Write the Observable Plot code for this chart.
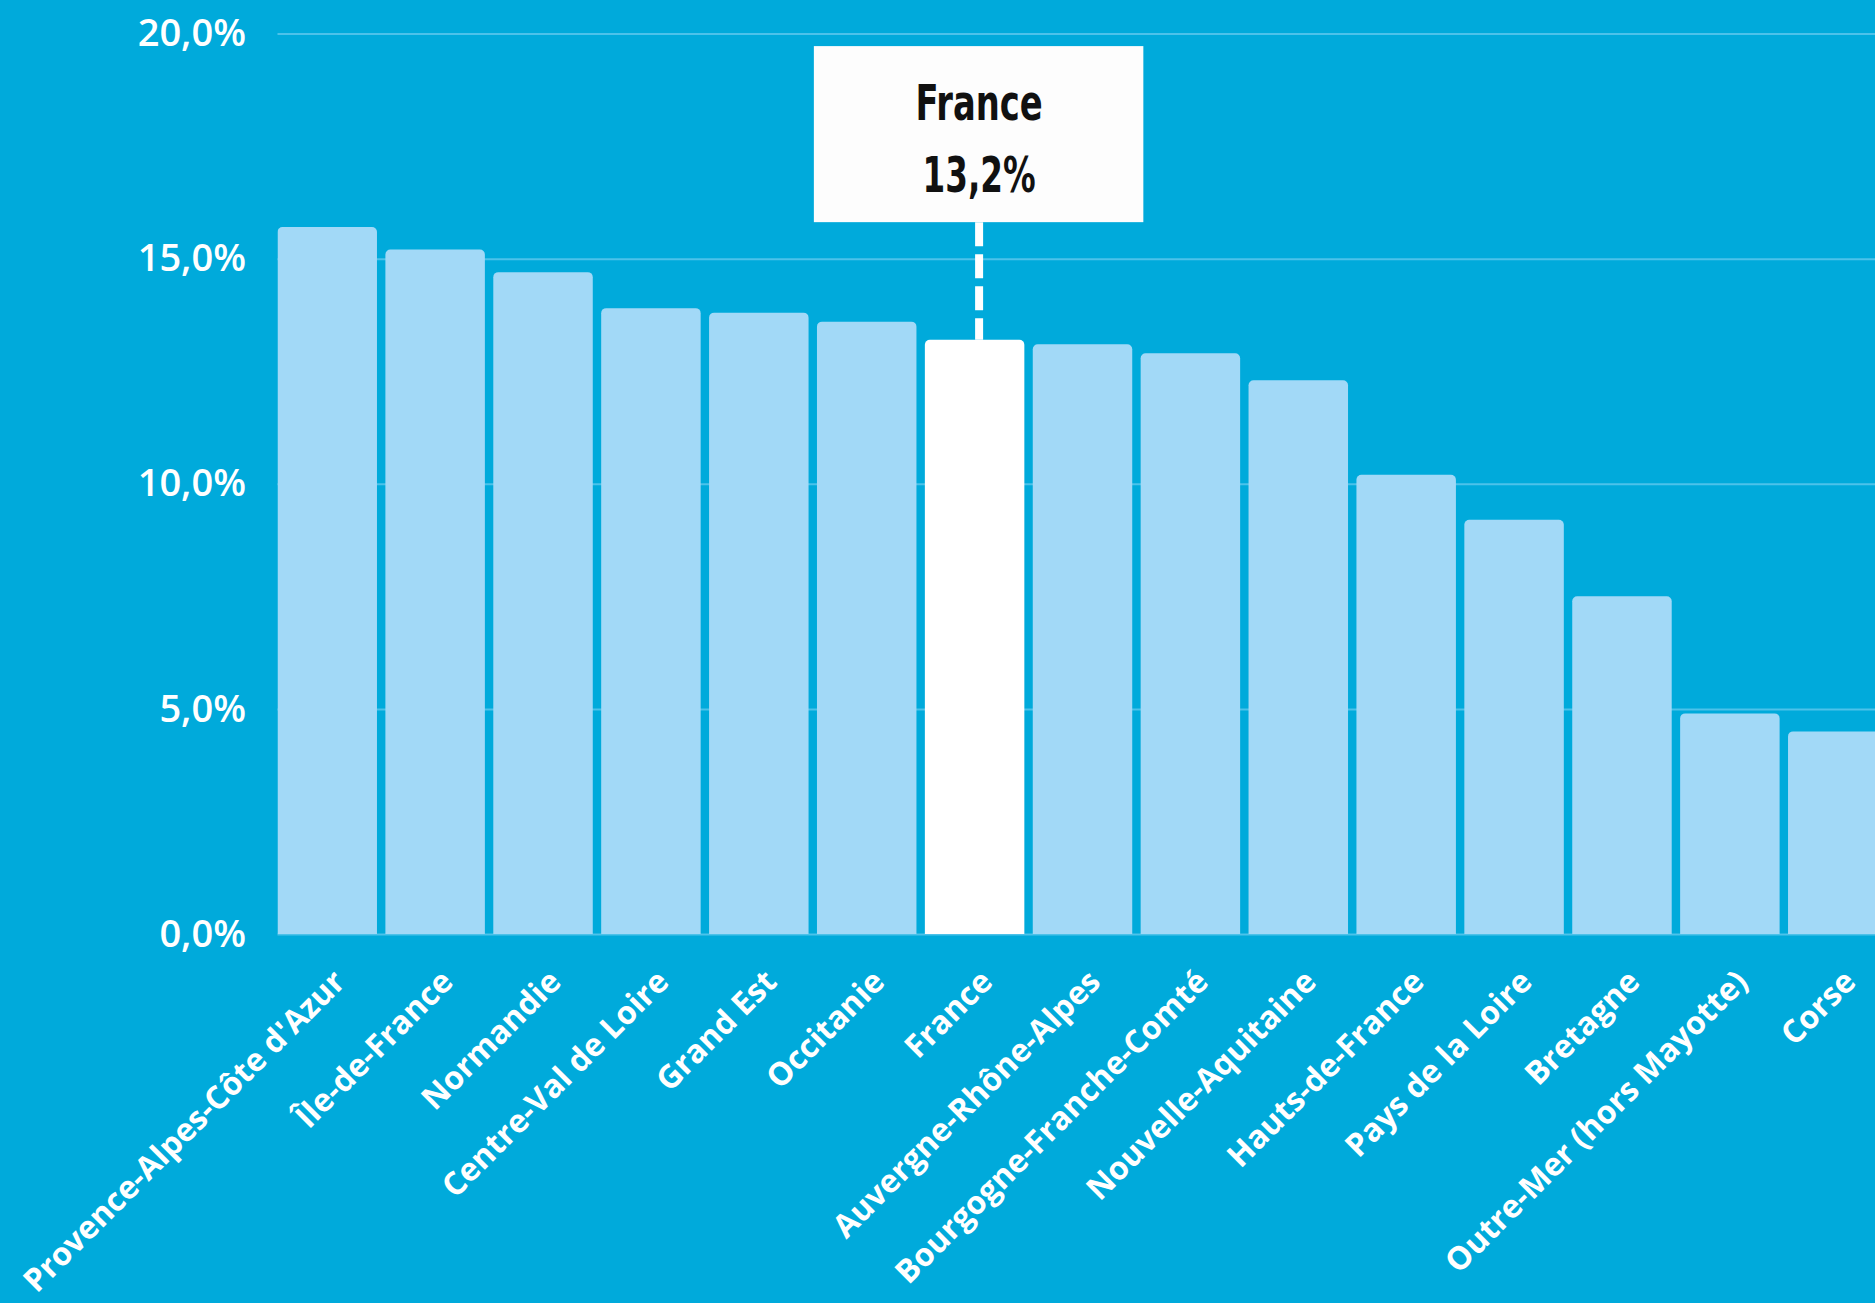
<!DOCTYPE html>
<html>
<head>
<meta charset="utf-8">
<script src="https://cdn.jsdelivr.net/npm/d3@7"></script>
<script src="https://cdn.jsdelivr.net/npm/@observablehq/plot@0.6"></script>
<style>
  html, body { margin: 0; padding: 0; background: #00AADB; overflow: hidden; width: 1875px; height: 1303px; }
  #chart svg { display: block; max-width: none !important; }
</style>
</head>
<body>
<div id="chart"></div>
<script>
// Categories (regions), sorted as in the reference
const regions = [
  "Provence-Alpes-Côte d'Azur", "Île-de-France", "Normandie", "Centre-Val de Loire",
  "Grand Est", "Occitanie", "France", "Auvergne-Rhône-Alpes",
  "Bourgogne-Franche-Comté", "Nouvelle-Aquitaine", "Hauts-de-France",
  "Pays de la Loire", "Bretagne", "Outre-Mer (hors Mayotte)", "Corse"
];
// Series values (%)
const values = [15.7, 15.2, 14.7, 13.9, 13.8, 13.6, 13.2, 13.1, 12.9, 12.3, 10.2, 9.2, 7.5, 4.9, 4.5];
// Highlighted category and its annotation text
const highlight = "France";
const annotationLines = ["France", "13,2%"];
// Y ticks and their labels
const yTicks = [0, 5, 10, 15, 20];
const yTickLabels = ["0,0%", "5,0%", "10,0%", "15,0%", "20,0%"];

const data = regions.map((region, i) => ({region, value: values[i]}));
const hl = data.filter(d => d.region === highlight);

// annotation box extent (in y units) and text centre
const boxTop = 19.72, boxBottom = 15.81, textY = 17.8;
const annotFont = "DejaVu Sans Condensed, Liberation Sans Narrow, DejaVu Sans, sans-serif";

const barColor = "#A2D9F7";
const chart = Plot.plot({
  width: 1890,
  height: 1303,
  marginLeft: 277.5,
  marginRight: 2.5,
  marginTop: 33.5,
  marginBottom: 369,
  style: {background: "#00AADB", fontFamily: "Open Sans", color: "white", overflow: "visible"},
  x: {domain: regions, paddingInner: 0.078, paddingOuter: 0, round: false, label: null},
  y: {domain: [0, 20], label: null},
  marks: [
    Plot.gridY(yTicks, {stroke: "#4CC2EA", strokeOpacity: 1, strokeWidth: 2}),
    // rounded-top bars; bottoms pushed below the frame and clipped so they stay square
    Plot.barY(data, {x: "region", y1: -0.5, y2: "value", fill: d => d.region === highlight ? "#FFFFFF" : barColor, rx: 5, clip: true}),
    // dashed leader
    Plot.ruleX(hl, {x: "region", y1: boxBottom, y2: d => d.value, stroke: "white", strokeWidth: 8, strokeDasharray: "24,8", dx: 4}),
    // annotation box
    Plot.barY(hl, {x: "region", y1: boxBottom, y2: boxTop, fill: "#FDFDFD", insetLeft: -111, insetRight: -119}),
    Plot.text(hl, {x: "region", y: textY, text: () => annotationLines.join("\n"), dx: 4, fill: "#111",
      fontFamily: annotFont, fontWeight: "bold", fontSize: 49, lineHeight: 1.46, lineAnchor: "middle"}),
    Plot.axisY({ticks: yTicks, tickFormat: d => yTickLabels[yTicks.indexOf(d)], tickSize: 0, tickPadding: 32,
      fontSize: 38, fontWeight: 600, fill: "white", label: null}),
    Plot.axisX({tickRotate: -45, tickSize: 0, tickPadding: 42, fontSize: 32, fontWeight: 700, fill: "white", label: null, dx: 12})
  ]
});
// condense the annotation lettering (reference uses a narrow display face)
d3.select(chart).selectAll("g[font-family]")
  .filter(function() { return this.getAttribute("font-family") === annotFont; })
  .style("font-stretch", "condensed")
  .selectAll("tspan")
  .each(function(_, i) {
    const target = [127, 113][i];
    if (target) { this.setAttribute("textLength", target); this.setAttribute("lengthAdjust", "spacingAndGlyphs"); }
  });
document.getElementById("chart").appendChild(chart);
</script>
</body>
</html>
